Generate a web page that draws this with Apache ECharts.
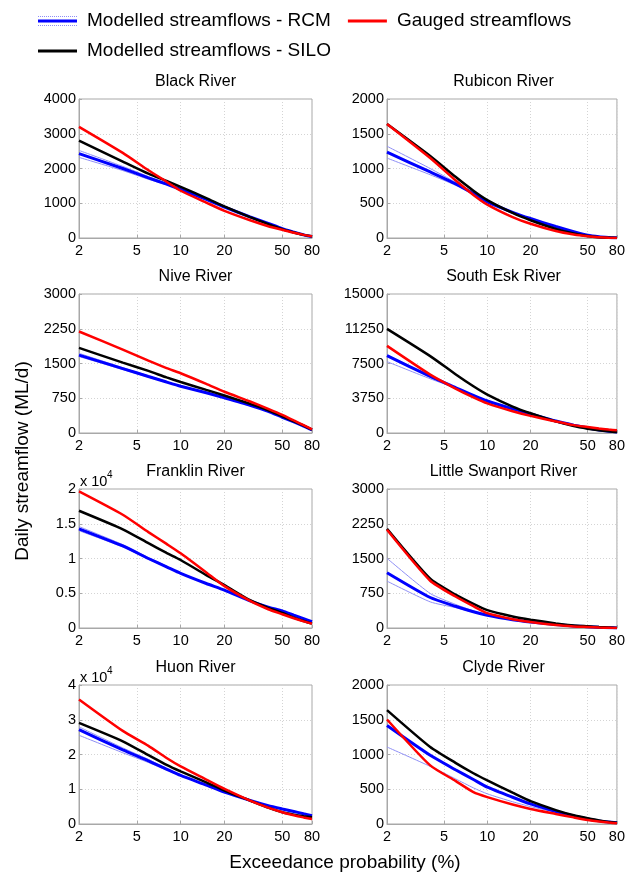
<!DOCTYPE html>
<html>
<head>
<meta charset="utf-8">
<script src="https://cdn.jsdelivr.net/npm/echarts@6/dist/echarts.min.js"></script>
<style>html,body{margin:0;padding:0;background:#fff;}#c{width:628px;height:875px;}</style>
</head>
<body>
<div id="c"></div>
<script>
// Exceedance probabilities (%)
const P = [2, 4, 6, 8, 10, 15, 20, 30, 40, 50, 60, 70, 80];
const xTicks = [2, 5, 10, 20, 50, 80];

const riverNames = ['Black River', 'Rubicon River', 'Nive River', 'South Esk River',
  'Franklin River', 'Little Swanport River', 'Huon River', 'Clyde River'];
const yMaxes = [4000, 2000, 3000, 15000, 20000, 3000, 40000, 2000];
const yIntervals = [1000, 500, 750, 3750, 5000, 750, 10000, 500];
const yScales = [1, 1, 1, 1, 1e4, 1, 1e4, 1];

// Black River
const blackGauged = [3200, 2450, 1950, 1620, 1360, 1020, 780, 510, 340, 235, 150, 90, 50];
const blackSilo   = [2800, 2200, 1850, 1640, 1470, 1150, 910, 600, 400, 255, 160, 90, 50];
const blackRcm    = [2430, 2000, 1730, 1550, 1400, 1110, 890, 610, 420, 270, 170, 90, 40];
const blackRcmA   = [2520, 2060, 1770, 1570, 1410, 1115, 893, 612, 420, 270, 170, 90, 40];
const blackRcmB   = [2320, 1940, 1690, 1530, 1390, 1105, 887, 608, 420, 270, 170, 90, 40];
// Rubicon River
const rubGauged = [1640, 1150, 830, 620, 480, 300, 205, 100, 50, 24, 10, 3, 0];
const rubSilo   = [1640, 1180, 880, 680, 545, 360, 255, 130, 65, 30, 12, 4, 0];
const rubRcm    = [1234, 950, 780, 640, 520, 370, 280, 165, 90, 40, 18, 8, 3];
const rubRcmA   = [1320, 1000, 800, 650, 525, 372, 281, 165, 90, 40, 18, 8, 3];
const rubRcmB   = [1150, 910, 760, 630, 515, 368, 279, 165, 90, 40, 18, 8, 3];
// Nive River
const niveGauged = [2190, 1800, 1560, 1400, 1290, 1060, 890, 680, 520, 390, 270, 170, 80];
const niveSilo   = [1836, 1520, 1340, 1200, 1100, 930, 810, 630, 490, 360, 250, 160, 72];
const niveRcm    = [1680, 1390, 1220, 1100, 1010, 870, 760, 600, 470, 340, 240, 150, 65];
const niveRcmA   = [1720, 1410, 1235, 1110, 1018, 875, 763, 602, 471, 341, 240, 150, 65];
const niveRcmB   = [1650, 1370, 1205, 1090, 1002, 865, 757, 598, 469, 339, 240, 150, 65];
// South Esk River
const seGauged = [9400, 6300, 4800, 3850, 3200, 2350, 1850, 1250, 850, 650, 480, 370, 290];
const seSilo   = [11240, 8300, 6350, 5050, 4150, 2850, 2130, 1250, 750, 470, 290, 180, 108];
const seRcm    = [8350, 6100, 4900, 4050, 3450, 2600, 2060, 1300, 850, 540, 330, 200, 108];
const seRcmA   = [7700, 5850, 4850, 4030, 3440, 2595, 2058, 1300, 850, 540, 330, 200, 108];
const seRcmB   = [8450, 6150, 4920, 4060, 3455, 2602, 2061, 1300, 850, 540, 330, 200, 108];
// Franklin River
const frGauged = [19660, 16300, 13800, 12100, 10750, 8000, 6020, 3900, 2700, 1980, 1400, 950, 630];
const frSilo   = [16870, 14200, 12200, 10800, 9780, 7600, 6170, 4000, 2900, 2170, 1500, 1000, 630];
const frRcm    = [14270, 11800, 10000, 8800, 7860, 6400, 5450, 3900, 3000, 2460, 1850, 1350, 920];
const frRcmA   = [14600, 12000, 10150, 8900, 7920, 6430, 5460, 3900, 3000, 2460, 1850, 1350, 920];
const frRcmB   = [14000, 11650, 9900, 8730, 7820, 6380, 5440, 3900, 3000, 2460, 1850, 1350, 920];
// Little Swanport River
const lsGauged = [2120, 1020, 680, 470, 320, 190, 130, 65, 35, 22, 10, 5, 0];
const lsSilo   = [2140, 1063, 720, 520, 385, 250, 180, 100, 55, 36, 20, 10, 0];
const lsRcm    = [1193, 658, 470, 350, 275, 180, 130, 75, 45, 29, 15, 8, 0];
const lsRcmA   = [1504, 745, 510, 370, 285, 183, 131, 75, 45, 29, 15, 8, 0];
const lsRcmB   = [1012, 564, 440, 340, 270, 178, 129, 75, 45, 29, 15, 8, 0];
// Huon River
const huGauged = [35850, 26800, 22500, 19000, 16580, 12800, 10120, 6750, 4700, 3370, 2500, 1900, 1450];
const huSilo   = [29100, 23800, 19800, 17000, 15130, 12000, 9640, 6750, 4700, 3370, 2700, 2250, 1930];
const huRcm    = [27180, 21300, 18200, 15800, 13980, 11200, 9160, 6800, 5300, 4340, 3600, 2950, 2410];
const huRcmA   = [27950, 21900, 18600, 16000, 14100, 11250, 9180, 6800, 5300, 4340, 3600, 2950, 2410];
const huRcmB   = [25540, 20500, 17700, 15500, 13850, 11150, 9140, 6800, 5300, 4340, 3600, 2950, 2410];
// Clyde River
const clGauged = [1504, 843, 620, 458, 386, 280, 217, 145, 95, 58, 35, 20, 10];
const clSilo   = [1639, 1108, 880, 730, 627, 450, 328, 200, 125, 82, 50, 30, 19];
const clRcm    = [1417, 988, 780, 640, 530, 385, 289, 180, 115, 72, 45, 28, 19];
const clRcmA   = [1108, 829, 650, 520, 434, 320, 250, 170, 115, 75, 45, 28, 19];

const gaugedAll = [blackGauged, rubGauged, niveGauged, seGauged, frGauged, lsGauged, huGauged, clGauged];
const siloAll = [blackSilo, rubSilo, niveSilo, seSilo, frSilo, lsSilo, huSilo, clSilo];
const rcmAll = [blackRcm, rubRcm, niveRcm, seRcm, frRcm, lsRcm, huRcm, clRcm];
const rcmMembersAll = [
  [blackRcmA, blackRcmB], [rubRcmA, rubRcmB], [niveRcmA, niveRcmB], [seRcmA, seRcmB],
  [frRcmA, frRcmB], [lsRcmA, lsRcmB], [huRcmA, huRcmB], [clRcmA]
];

const FONT = "'Liberation Sans', Arial, sans-serif";
const lefts = [79, 387];
const tops = [99, 294, 489, 685];
const W = 233, H = 139;
const frameColor = '#a8a8a8';
const gridLineColor = '#d4d4d4';
const SMOOTH = 0.2;

const RCM = 'Modelled streamflows - RCM';
const SILO = 'Modelled streamflows - SILO';
const GAUGED = 'Gauged streamflows';

const grids = [], xAxes = [], yAxes = [], series = [], titles = [], graphics = [];
const toPairs = arr => arr.map((v, k) => [Math.log10(P[k]), v]);

for (let i = 0; i < 8; i++) {
  const col = i % 2, row = Math.floor(i / 2);
  const L = lefts[col], T = tops[row];
  grids.push({ left: L, top: T, width: W, height: H, show: true, borderColor: frameColor, borderWidth: 1, containLabel: false });
  titles.push({ text: riverNames[i], left: L + W / 2, top: T - 25, textAlign: 'center', padding: 0,
    textStyle: { fontFamily: FONT, fontSize: 16, fontWeight: 'normal', color: '#000' } });
  const tv = xTicks.map(t => Math.log10(t));
  xAxes.push({
    type: 'value', gridIndex: i, min: Math.log10(2), max: Math.log10(80),
    axisLine: { show: true, lineStyle: { color: frameColor } },
    axisTick: { show: true, inside: true, length: 3, customValues: tv, lineStyle: { color: frameColor } },
    axisLabel: { customValues: tv, formatter: v => String(Math.round(Math.pow(10, v))),
      color: '#000', fontFamily: FONT, fontSize: 14.5, margin: 5 },
    splitLine: { show: true, lineStyle: { color: gridLineColor, type: [1, 2] } }
  });
  const sc = yScales[i];
  yAxes.push({
    type: 'value', gridIndex: i, min: 0, max: yMaxes[i], interval: yIntervals[i],
    axisLine: { show: true, lineStyle: { color: frameColor } },
    axisTick: { show: true, inside: true, length: 3, lineStyle: { color: frameColor } },
    axisLabel: { formatter: v => String(Math.round(v / sc * 100) / 100), color: '#000', fontFamily: FONT, fontSize: 14.5, margin: 3 },
    splitLine: { show: true, lineStyle: { color: gridLineColor, type: [1, 2] } }
  });
  rcmMembersAll[i].forEach(m => {
    series.push({ type: 'line', name: 'RCM member', xAxisIndex: i, yAxisIndex: i, data: toPairs(m), smooth: SMOOTH,
      symbol: 'none', silent: true, lineStyle: { color: '#8f8ff5', width: 1 }, itemStyle: { color: '#8f8ff5' }, z: 1 });
  });
  series.push({ type: 'line', name: RCM, xAxisIndex: i, yAxisIndex: i, data: toPairs(rcmAll[i]), smooth: SMOOTH,
    symbol: 'none', silent: true, lineStyle: { color: '#0000ff', width: 3 }, itemStyle: { color: '#0000ff' }, z: 2 });
  series.push({ type: 'line', name: SILO, xAxisIndex: i, yAxisIndex: i, data: toPairs(siloAll[i]), smooth: SMOOTH,
    symbol: 'none', silent: true, lineStyle: { color: '#000000', width: 2.5 }, itemStyle: { color: '#000000' }, z: 3 });
  series.push({ type: 'line', name: GAUGED, xAxisIndex: i, yAxisIndex: i, data: toPairs(gaugedAll[i]), smooth: SMOOTH,
    symbol: 'none', silent: true, lineStyle: { color: '#ff0000', width: 2.5 }, itemStyle: { color: '#ff0000' }, z: 4 });
  if (sc !== 1) {
    graphics.push({ type: 'text', left: L + 1, top: T - 15, style: { text: 'x 10', fontFamily: FONT, fontSize: 14.5, fill: '#000' } });
    graphics.push({ type: 'text', left: L + 28, top: T - 19, style: { text: '4', fontFamily: FONT, fontSize: 10, fill: '#000' } });
  }
}

// axis titles
graphics.push({ type: 'text', x: 23, y: 461, rotation: Math.PI / 2,
  style: { text: 'Daily streamflow (ML/d)', fontFamily: FONT, fontSize: 19, fill: '#000', align: 'center', verticalAlign: 'middle' } });
graphics.push({ type: 'text', x: 345, y: 863,
  style: { text: 'Exceedance probability (%)', fontFamily: FONT, fontSize: 19, fill: '#000', align: 'center', verticalAlign: 'middle' } });
// dotted member lines in the RCM legend key
graphics.push({ type: 'line', shape: { x1: 38, y1: 16.5, x2: 77, y2: 16.5 }, style: { stroke: '#8f8ff5', lineWidth: 1, lineDash: [1, 1] } });
graphics.push({ type: 'line', shape: { x1: 38, y1: 25.5, x2: 77, y2: 25.5 }, style: { stroke: '#8f8ff5', lineWidth: 1, lineDash: [1, 1] } });

const legendCommon = { orient: 'horizontal', icon: 'rect', itemWidth: 39, itemHeight: 3, itemGap: 17, padding: 0,
  selectedMode: false,
  textStyle: { fontFamily: FONT, fontSize: 19, lineHeight: 20, color: '#000', padding: [0, 0, 0, 5] } };

const option = {
  animation: false,
  backgroundColor: '#fff',
  title: titles,
  legend: [
    Object.assign({}, legendCommon, { left: 38, top: 11, data: [RCM, GAUGED] }),
    Object.assign({}, legendCommon, { left: 38, top: 41, data: [SILO] })
  ],
  grid: grids, xAxis: xAxes, yAxis: yAxes, series: series, graphic: graphics
};
const chart = echarts.init(document.getElementById('c'), null, { renderer: 'canvas' });
chart.setOption(option);
</script>
</body>
</html>
